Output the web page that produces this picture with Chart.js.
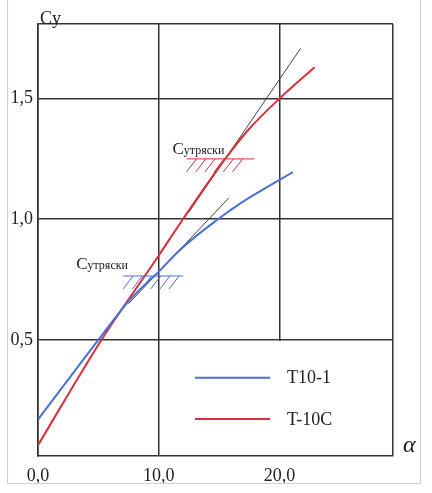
<!DOCTYPE html>
<html>
<head>
<meta charset="utf-8">
<script src="https://cdn.jsdelivr.net/npm/chart.js@4/dist/chart.umd.min.js"></script>
<style>
  html, body { margin: 0; padding: 0; background: #fff; }
  #wrap { position: relative; width: 432px; height: 493px; }
  canvas { display: block; }
</style>
</head>
<body>
<div id="wrap"><canvas id="c" width="432" height="493"></canvas></div>
<script>
// ---- data ----
const alphaT101 = [0, 5, 7.6, 10, 11.75, 14.9, 16.7, 20, 21.1];
const cyT101    = [0.17, 0.5, 0.666, 0.783, 0.873, 1.0, 1.064, 1.163, 1.195];

const alphaT10C = [0, 5.25, 10, 12, 15.5, 17.5, 20, 22.9];
const cyT10C    = [0.064, 0.5, 0.85, 1.0, 1.25, 1.375, 1.5, 1.63];

// tangent (linear) lines
const alphaTanBlue = [7.5, 15.8];
const cyTanBlue    = [0.65, 1.088];
const alphaTanRed  = [12.5, 21.75];
const cyTanRed     = [1.03, 1.708];

// buffeting limits (Cy тряски)
const buffetBlueY = 0.765, buffetBlueX = [7.05, 12.0];
const buffetRedY  = 1.25,  buffetRedX  = [12.3, 17.9];

const xTicks = [0, 10, 20];
const yTicks = [0.5, 1.0, 1.5];
const xMin = 0, xMax = 29.4;
const yMin = 0.019, yMax = 1.809;

const seriesNames = ['T10-1', 'T-10C'];
const BLUE = '#4a6fd6';
const RED = '#d6303a';
const GRID = '#333333';
const SERIF = '"Liberation Serif", "DejaVu Serif", serif';

const pts = (xs, ys) => xs.map((x, i) => ({ x: x, y: ys[i] }));
const fmt = v => v.toFixed(1).replace('.', ',');

const overlay = {
  id: 'overlay',
  beforeDatasetsDraw(chart) {
    const { ctx, chartArea: a, scales } = chart;
    // white legend panel hides the grid line below 0,5 right of ~x=11
    ctx.save();
    ctx.fillStyle = '#fff';
    const yTop = scales.y.getPixelForValue(0.5) + 1;
    const xl = scales.x.getPixelForValue(11);
    ctx.fillRect(xl, yTop, a.right - 1.5 - xl, a.bottom - 1 - yTop);
    ctx.restore();
  },
  afterDraw(chart) {
    const { ctx, scales } = chart;
    const xs = scales.x, ys = scales.y;
    ctx.save();
    // outer light frame
    ctx.strokeStyle = '#d0d0d0';
    ctx.lineWidth = 1.2;
    ctx.beginPath();
    ctx.moveTo(7.5, 0); ctx.lineTo(7.5, 483.5); ctx.lineTo(420.5, 483.5); ctx.lineTo(420.5, 0);
    ctx.stroke();

    // buffeting hatched limits
    function hatch(yv, xr, color, dx, dy) {
      const y = ys.getPixelForValue(yv);
      const x0 = xs.getPixelForValue(xr[0]);
      const x1 = xs.getPixelForValue(xr[1]);
      ctx.strokeStyle = color;
      ctx.lineWidth = 1;
      ctx.beginPath();
      ctx.moveTo(x0, y); ctx.lineTo(x1, y);
      for (let sx = x0 + 10; sx <= x1 - 3; sx += 9.2) {
        ctx.moveTo(sx, y); ctx.lineTo(sx - 10, y + 13);
      }
      ctx.stroke();
      // label "Cутряски"
      ctx.fillStyle = '#222';
      ctx.textBaseline = 'alphabetic';
      ctx.textAlign = 'left';
      ctx.font = '17px ' + SERIF;
      const tx = x0 + dx, ty = y + dy;
      ctx.fillText('C', tx, ty);
      const w = ctx.measureText('C').width;
      ctx.font = '12px ' + SERIF;
      ctx.fillText('утряски', tx + w, ty);
    }
    hatch(buffetRedY, buffetRedX, RED, -14, -5);
    hatch(buffetBlueY, buffetBlueX, BLUE, -47, -7);

    // legend
    const ds = chart.data.datasets;
    const legY = [377.7, 419];
    for (let i = 0; i < 2; i++) {
      ctx.strokeStyle = ds[i].borderColor;
      ctx.lineWidth = 2;
      ctx.beginPath();
      ctx.moveTo(195, legY[i]); ctx.lineTo(270, legY[i]);
      ctx.stroke();
      ctx.fillStyle = '#222';
      ctx.font = '18px ' + SERIF;
      ctx.textBaseline = 'middle';
      ctx.fillText(ds[i].label, 287, legY[i] + 1);
    }

    // axis titles
    ctx.fillStyle = '#222';
    ctx.textBaseline = 'alphabetic';
    ctx.font = '18px ' + SERIF;
    ctx.fillText('Cy', 40, 24);
    ctx.font = 'italic 24px ' + SERIF;
    ctx.fillText('α', 403, 452);
    ctx.restore();
  }
};

new Chart(document.getElementById('c'), {
  type: 'scatter',
  data: {
    datasets: [
      { label: seriesNames[0], data: pts(alphaT101, cyT101), showLine: true, borderColor: BLUE, borderWidth: 2, pointRadius: 0, cubicInterpolationMode: 'monotone', fill: false },
      { label: seriesNames[1], data: pts(alphaT10C, cyT10C), showLine: true, borderColor: RED, borderWidth: 2, pointRadius: 0, cubicInterpolationMode: 'monotone', fill: false },
      { label: 'tan1', data: pts(alphaTanBlue, cyTanBlue), showLine: true, borderColor: '#444', borderWidth: 1, pointRadius: 0, fill: false },
      { label: 'tan2', data: pts(alphaTanRed, cyTanRed), showLine: true, borderColor: '#444', borderWidth: 1, pointRadius: 0, fill: false }
    ]
  },
  options: {
    responsive: false,
    animation: false,
    devicePixelRatio: 1,
    layout: { padding: { top: 24, right: 39, bottom: 0, left: 0 } },
    plugins: { legend: { display: false }, tooltip: { enabled: false } },
    scales: {
      x: {
        type: 'linear', min: xMin, max: xMax,
        afterBuildTicks: s => { s.ticks = xTicks.concat([xMax]).map(v => ({ value: v })); },
        afterFit: s => { s.height = 37; },
        grid: { color: GRID, lineWidth: 1.5, drawTicks: false },
        border: { display: true, color: GRID, width: 1.6 },
        ticks: { padding: 9, color: '#222', font: { family: SERIF, size: 18 }, maxRotation: 0,
          callback: v => xTicks.includes(v) ? fmt(v) : '' }
      },
      y: {
        type: 'linear', min: yMin, max: yMax,
        afterBuildTicks: s => { s.ticks = yTicks.concat([yMax]).map(v => ({ value: v })); },
        afterFit: s => { s.width = 38; },
        grid: { color: GRID, lineWidth: 1.5, drawTicks: false },
        border: { display: true, color: GRID, width: 1.6 },
        ticks: { padding: 5, color: '#222', font: { family: SERIF, size: 18 },
          callback: v => yTicks.includes(v) ? fmt(v) : '' }
      }
    }
  },
  plugins: [overlay]
});
</script>
</body>
</html>
